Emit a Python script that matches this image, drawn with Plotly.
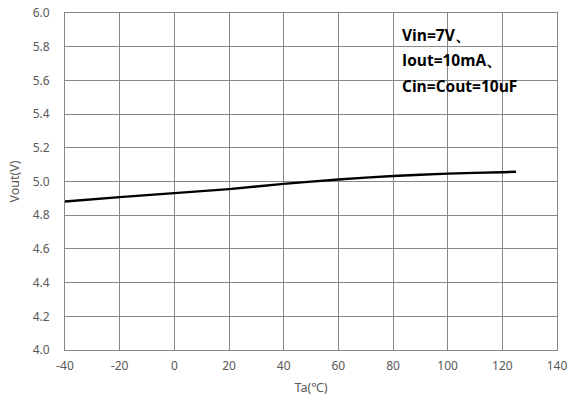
import plotly.graph_objects as go

temps = [-40, -20, 0, 20, 40, 60, 80, 100, 120, 125]
vout = [4.881, 4.907, 4.931, 4.955, 4.986, 5.012, 5.033, 5.047, 5.055, 5.058]

x_ticks = [-40, -20, 0, 20, 40, 60, 80, 100, 120, 140]
y_ticks = [4.0, 4.2, 4.4, 4.6, 4.8, 5.0, 5.2, 5.4, 5.6, 5.8, 6.0]
y_tick_labels = [f"{v:.1f}" for v in y_ticks]

notes = ["Vin=7V、", "Iout=10mA、", "Cin=Cout=10uF"]

FONT = "Noto Sans"
GRAY = "#595959"
GRID = "#878787"

fig = go.Figure()
fig.add_trace(go.Scatter(
    x=temps, y=vout, mode="lines",
    line=dict(color="black", width=2.4, shape="spline", smoothing=0.6),
    showlegend=False, hoverinfo="skip",
))

for i, t in enumerate(notes):
    fig.add_annotation(
        x=0.68, xref="paper", y=0.935 - i * 0.0755, yref="paper",
        text=f"<b>{t}</b>", showarrow=False, xanchor="left", yanchor="middle",
        font=dict(family="Open Sans, Noto Sans", size=15.5, color="black"),
    )

fig.update_layout(
    width=571, height=403,
    margin=dict(l=65, r=14, t=13, b=53),
    paper_bgcolor="white", plot_bgcolor="white",
    font=dict(family=FONT, size=12, color=GRAY),
    xaxis=dict(
        range=[-40, 140], tickvals=x_ticks, ticktext=[str(v) for v in x_ticks],
        showgrid=True, gridcolor=GRID, gridwidth=1,
        showline=True, linecolor=GRID, linewidth=1, mirror=True,
        zeroline=False, ticks="", ticklabelstandoff=5, automargin=False,
        title=dict(text="Ta(℃)", font=dict(family=FONT, size=12.5, color=GRAY), standoff=9),
        fixedrange=True,
    ),
    yaxis=dict(
        range=[4.0, 6.0], tickvals=y_ticks, ticktext=y_tick_labels,
        showgrid=True, gridcolor=GRID, gridwidth=1,
        showline=True, linecolor=GRID, linewidth=1, mirror=True,
        zeroline=False, ticks="", ticklabelstandoff=12, automargin=False,
        title=dict(text="Vout(V)", font=dict(family=FONT, size=12.5, color=GRAY), standoff=10),
        fixedrange=True,
    ),
)

fig.write_html(
    "out.html",
    config={"displayModeBar": False},
    post_script="document.body.style.margin='0';document.body.style.overflow='hidden';",
)
